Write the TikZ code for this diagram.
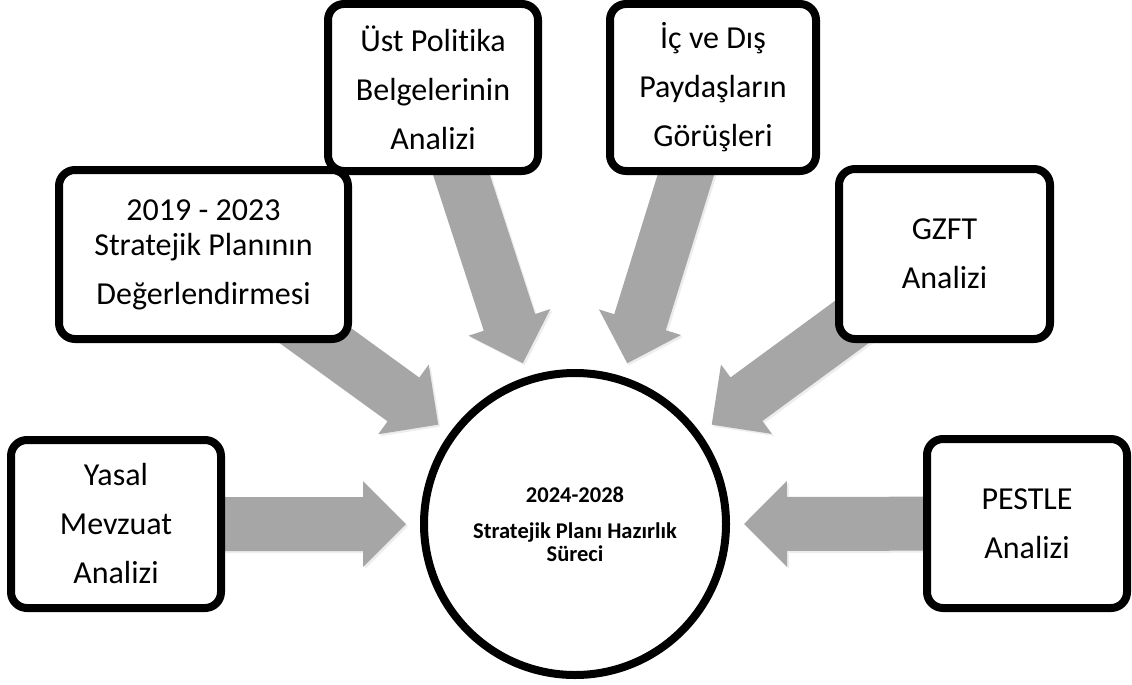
\documentclass[tikz,border=0pt]{standalone}
\usepackage{fontspec}
\setmainfont[Ligatures=NoCommon]{Carlito}
\usetikzlibrary{calc,shadows}
\definecolor{arrowgray}{RGB}{166,166,166}
\pgfdeclarelayer{bg}
\pgfsetlayers{bg,main}
\tikzset{
  infobox/.style={draw=black, line width=8pt, fill=white, rounded corners=16pt,
    inner sep=0pt, align=center, font=\fontsize{32}{49}\selectfont,
    drop shadow={opacity=0.3, shadow xshift=3pt, shadow yshift=-3pt}},
  hub/.style={circle, draw=black, line width=8pt, fill=white, minimum size=302pt,
    inner sep=0pt, align=center, font=\bfseries\fontsize{22.5}{23}\selectfont,
    drop shadow={opacity=0.25, shadow xshift=3pt, shadow yshift=-3pt}},
  blockarrow/.style={fill=arrowgray}
}
\newcommand\blkarrow[2]{%
  \coordinate (hb) at ($(#2)!43pt!(#1.center)$);
  \fill[black, opacity=0.07] ([shift={(2pt,-2pt)}]$(#1.center)!27pt!90:(#2)$) -- ([shift={(2pt,-2pt)}]$(hb)!27pt!90:(#2)$) -- ([shift={(2pt,-2pt)}]$(hb)!43pt!90:(#2)$) -- ([shift={(2pt,-2pt)}]#2) -- ([shift={(2pt,-2pt)}]$(hb)!43pt!-90:(#2)$) -- ([shift={(2pt,-2pt)}]$(hb)!27pt!-90:(#2)$) -- ([shift={(2pt,-2pt)}]$(#1.center)!27pt!-90:(#2)$) -- cycle;
  \fill[blockarrow] ($(#1.center)!27pt!90:(#2)$) -- ($(hb)!27pt!90:(#2)$) -- ($(hb)!43pt!90:(#2)$) -- (#2) -- ($(hb)!43pt!-90:(#2)$) -- ($(hb)!27pt!-90:(#2)$) -- ($(#1.center)!27pt!-90:(#2)$) -- cycle;}
\begin{document}
\begin{tikzpicture}[x=1pt, y=-1pt]
  \useasboundingbox (0,0) rectangle (1132,685);
  % central circle
  \node[hub] (hub) at (575,524) {2024-2028\\[13pt]Stratejik Planı Hazırlık\\Süreci};
  % boxes
  \node[infobox, minimum width=210pt, minimum height=168pt] (yasal) at (116,524) {Yasal\\Mevzuat\\Analizi};
  \node[infobox, minimum width=289pt, minimum height=169pt] (plan) at (203.5,254.5) {2019 - 2023\\[-14pt]Stratejik Planının\\Değerlendirmesi};
  \node[infobox, minimum width=210pt, minimum height=167pt] (ust) at (433,87.5) {Üst Politika\\Belgelerinin\\Analizi};
  \node[infobox, minimum width=206pt, minimum height=167pt] (pay) at (713,87.5) {İç ve Dış\\Paydaşların\\Görüşleri};
  \node[infobox, minimum width=211pt, minimum height=170pt] (gzft) at (944.5,254) {GZFT\\Analizi};
  \node[infobox, minimum width=200pt, minimum height=169pt] (pestle) at (1027,523.5) {PESTLE\\Analizi};
  % arrow tips
  \coordinate (tA) at ($(hub.center)+(180:169pt)$);
  \coordinate (tB) at ($(hub.center)+(144:169pt)$);
  \coordinate (tC) at ($(hub.center)+(108:169pt)$);
  \coordinate (tD) at ($(hub.center)+(72:169pt)$);
  \coordinate (tE) at ($(hub.center)+(36:169pt)$);
  \coordinate (tF) at ($(hub.center)+(0:169pt)$);
  \begin{pgfonlayer}{bg}
    \blkarrow{yasal}{tA}
    \blkarrow{plan}{tB}
    \blkarrow{ust}{tC}
    \blkarrow{pay}{tD}
    \blkarrow{gzft}{tE}
    \blkarrow{pestle}{tF}
  \end{pgfonlayer}
\end{tikzpicture}
\end{document}
